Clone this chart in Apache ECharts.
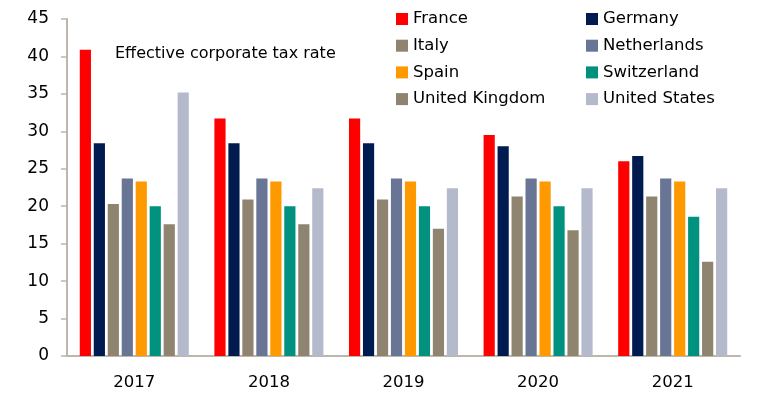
<!DOCTYPE html>
<html>
<head>
<meta charset="utf-8">
<script src="https://cdn.jsdelivr.net/npm/echarts@6/dist/echarts.min.js"></script>
<style>
  html, body { margin: 0; padding: 0; background: #fff; }
  #main { width: 776px; height: 397px; }
</style>
</head>
<body>
<div id="main"></div>
<script>
// categories (years)
var years = ["2017", "2018", "2019", "2020", "2021"];

// effective corporate tax rate, %
var france      = [40.9, 31.7, 31.7, 29.5, 26.0];
var germany     = [28.4, 28.4, 28.4, 28.0, 26.7];
var italy       = [20.3, 20.9, 20.9, 21.3, 21.3];
var netherlands = [23.7, 23.7, 23.7, 23.7, 23.7];
var spain       = [23.3, 23.3, 23.3, 23.3, 23.3];
var switzerland = [20.0, 20.0, 20.0, 20.0, 18.6];
var uk          = [17.6, 17.6, 17.0, 16.8, 12.6];
var us          = [35.2, 22.4, 22.4, 22.4, 22.4];

var seriesNames = ["France", "Germany", "Italy", "Netherlands", "Spain", "Switzerland", "United Kingdom", "United States"];
var seriesData = [france, germany, italy, netherlands, spain, switzerland, uk, us];
var colors = ["#ff0000", "#001b50", "#8e8470", "#687594", "#ff9900", "#00927f", "#8e8470", "#b4bacb"];

var font = "DejaVu Sans";
var axisColor = "#bdb6ab";

var chart = echarts.init(document.getElementById("main"));

var series = seriesNames.map(function (name, i) {
    return {
        name: name,
        type: "bar",
        data: seriesData[i],
        barGap: "25%",
        barCategoryGap: "19%",
        itemStyle: { color: colors[i] },
        emphasis: { disabled: true }
    };
});

var legendCommon = {
    orient: "vertical",
    top: 5,
    itemWidth: 12,
    itemHeight: 12,
    itemGap: 8.7,
    icon: "rect",
    textStyle: { fontFamily: font, fontSize: 16.5, color: "#000", lineHeight: 18, padding: [0, 0, 0, 0] }
};

var option = {
    animation: false,
    title: {
        text: "Effective corporate tax rate",
        left: 110,
        top: 41,
        textStyle: { fontFamily: font, fontSize: 16, fontWeight: "normal", color: "#000" }
    },
    legend: [
        Object.assign({}, legendCommon, { left: 391, data: ["France", "Italy", "Spain", "United Kingdom"] }),
        Object.assign({}, legendCommon, { left: 581, data: ["Germany", "Netherlands", "Switzerland", "United States"] })
    ],
    grid: { left: 67, right: 36, top: 19, bottom: 41 },
    xAxis: {
        type: "category",
        data: years,
        axisLine: { lineStyle: { color: axisColor, width: 2 } },
        axisTick: { length: 6, lineStyle: { color: axisColor, width: 1.5 } },
        axisLabel: { fontFamily: font, fontSize: 16.5, color: "#000", margin: 18 }
    },
    yAxis: {
        type: "value",
        min: 0,
        max: 45,
        interval: 5,
        splitLine: { show: false },
        axisLine: { show: true, lineStyle: { color: axisColor, width: 2 } },
        axisTick: { show: true, length: 6, lineStyle: { color: axisColor, width: 1.5 } },
        axisLabel: { fontFamily: font, fontSize: 17, color: "#000", margin: 18 }
    },
    series: series
};

chart.setOption(option);
</script>
</body>
</html>
